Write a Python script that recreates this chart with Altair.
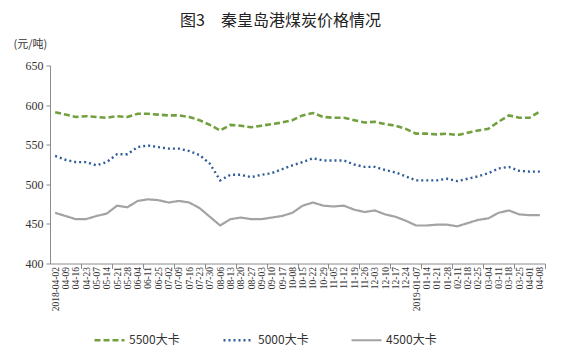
import altair as alt
import pandas as pd

dates = ["2018-04-02", "04-09", "04-16", "04-23", "05-07", "05-14", "05-21", "05-28",
         "06-04", "06-11", "06-25", "07-02", "07-09", "07-16", "07-23", "07-30",
         "08-06", "08-13", "08-20", "08-27", "09-03", "09-10", "09-17", "10-08",
         "10-15", "10-22", "10-29", "11-05", "11-12", "11-19", "11-26", "12-03",
         "12-10", "12-17", "12-24", "2019-01-07", "01-14", "01-21", "01-28", "02-11",
         "02-18", "02-25", "03-04", "03-11", "03-18", "03-25", "04-01", "04-08"]

s5500 = [591, 588, 585, 586, 585, 584, 586, 585, 589, 589, 588, 587, 587, 585, 581, 575,
         568, 575, 574, 572, 574, 576, 578, 581, 587, 590, 585, 584, 584, 581, 578, 579,
         576, 574, 570, 564, 564, 563, 564, 562, 565, 568, 570, 579, 587, 584, 584, 592]
s5000 = [536, 531, 528, 528, 524, 528, 538, 538, 547, 549, 547, 545, 545, 542, 537, 526,
         505, 512, 512, 509, 512, 514, 519, 524, 528, 533, 530, 530, 530, 525, 522, 522,
         518, 515, 510, 505, 505, 505, 507, 504, 507, 510, 514, 520, 522, 517, 516, 516]
s4500 = [464, 460, 456, 456, 460, 463, 473, 471, 479, 481, 480, 477, 479, 477, 470, 459,
         448, 456, 458, 456, 456, 458, 460, 464, 473, 477, 473, 472, 473, 468, 465, 467,
         462, 459, 454, 448, 448, 449, 449, 447, 451, 455, 457, 464, 467, 462, 461, 461]

series_names = ["5500大卡", "5000大卡", "4500大卡"]
colors = ["#72A03E", "#2F5D98", "#A3A3A3"]
dashes = [[6, 3], [2, 3], [1, 0]]
widths = [2.6, 2.2, 1.6]
y_ticks = [400, 450, 500, 550, 600, 650]

rows = []
for name, vals in zip(series_names, [s5500, s5000, s4500]):
    for d, v in zip(dates, vals):
        rows.append({"date": d, "price": v, "series": name})
df = pd.DataFrame(rows)

W, H = 495, 198
step = W / len(dates)
tick_dates = dates[2::3]

xscale = alt.Scale(type="point", domain=dates, padding=0.5)
yscale = alt.Scale(domain=[400, 650], nice=False, zero=False)
serif = "Liberation Serif"

y_enc = alt.Y("price:Q", scale=yscale,
              axis=alt.Axis(values=y_ticks, grid=False, title="(元/吨)", titleAngle=0,
                            titleAlign="left", titleBaseline="middle", titleX=-37, titleY=-21,
                            titleFont="Noto Sans CJK SC", titleFontSize=11,
                            titleFontWeight="normal", titleColor="#333333",
                            labelFont=serif, labelFontSize=12, labelColor="#333333",
                            labelPadding=3, tickSize=4, tickColor="#8c8c8c",
                            domainColor="#8c8c8c"))

color_enc = alt.Color("series:N", scale=alt.Scale(domain=series_names, range=colors),
                      legend=alt.Legend(title=None, orient="none", direction="horizontal",
                                        legendX=43, legendY=258, symbolType="stroke",
                                        symbolSize=900, symbolStrokeWidth=2.5,
                                        labelFont="Noto Sans CJK SC", labelFontSize=12,
                                        labelColor="#333333", labelOffset=3,
                                        columnPadding=38))
dash_enc = alt.StrokeDash("series:N", scale=alt.Scale(domain=series_names, range=dashes),
                          legend=alt.Legend(title=None))
width_enc = alt.StrokeWidth("series:N", scale=alt.Scale(domain=series_names, range=widths),
                            legend=None)

lines = alt.Chart(df).mark_line().encode(
    x=alt.X("date:N", sort=dates, scale=xscale, title=None,
            axis=alt.Axis(orient="bottom", labelAngle=-90, ticks=False, labelFont=serif,
                          labelFontSize=9.5, labelColor="#333333", labelPadding=3,
                          domainColor="#8c8c8c", labelOverlap=False, labelAlign="right",
                          labelBaseline="middle")),
    y=y_enc,
    color=color_enc,
    strokeDash=dash_enc,
    strokeWidth=width_enc,
    detail="series:N",
)

ticks_layer = alt.Chart(df).mark_line(opacity=0).encode(
    x=alt.X("date:N", sort=dates, scale=xscale, title=None,
            axis=alt.Axis(orient="bottom", values=tick_dates, labels=False, domain=False,
                          ticks=True, tickSize=5, tickColor="#8c8c8c", tickOffset=step / 2)),
    y=y_enc,
    detail="series:N",
)

chart = alt.layer(lines, ticks_layer).resolve_axis(x="independent").properties(
    width=W, height=H,
    title=alt.TitleParams("图3　秦皇岛港煤炭价格情况", font="Noto Sans CJK SC", fontSize=16,
                          fontWeight="normal", color="#222222", anchor="middle",
                          frame="group", dx=-17, offset=10),
    autosize=alt.AutoSizeParams(type="none"),
    padding={"left": 42, "top": 57.5, "right": 8, "bottom": 89.5},
).configure(background="white").configure_view(stroke=None)

chart.save("out.html", embed_options={"renderer": "svg", "actions": False})
